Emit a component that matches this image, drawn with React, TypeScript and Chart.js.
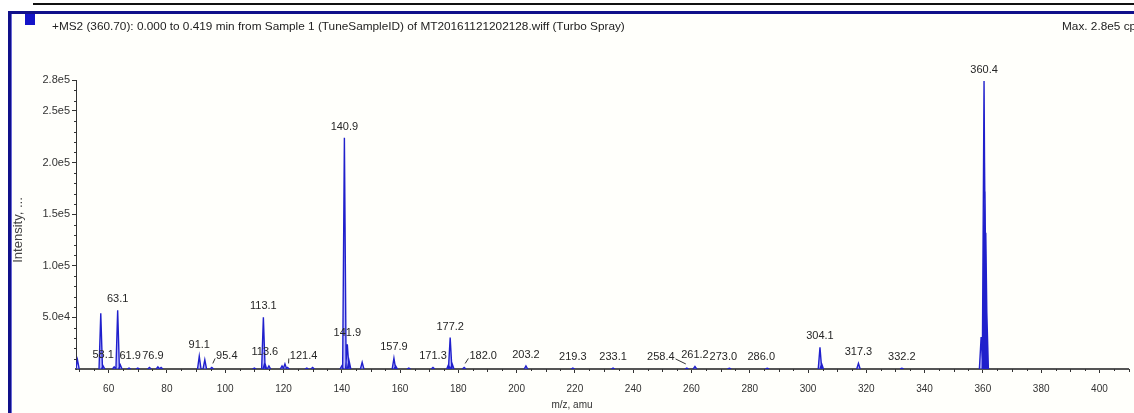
import React, { useEffect, useRef } from 'react';
import { Chart, registerables } from 'chart.js';

Chart.register(...registerables);

// ---- data ----
const peakMz = [
  49.3, 57.3, 58.1, 61.9, 63.1, 64.0, 67.0, 70.0, 74.0, 76.9, 78.0,
  91.1, 93.0, 95.4, 110.0, 113.1, 113.6, 115.0, 119.5, 120.5, 121.4, 128.0, 130.0,
  140.0, 140.9, 141.9, 142.5, 147.0, 157.9, 158.5, 163.0, 171.3, 176.6, 177.2, 177.9,
  182.0, 203.2, 219.3, 233.1, 258.4, 261.2, 273.0, 286.0, 304.1, 304.7, 317.3, 332.2,
  359.4, 360.4, 360.7, 361.0, 361.3,
];
const peakIntensity = [
  9000, 54000, 3000, 2000, 57000, 4000, 1000, 1000, 1500, 2000, 1500,
  12500, 9000, 1500, 1000, 50000, 6000, 3000, 3000, 5000, 1500, 1000, 1500,
  3000, 224000, 24000, 8000, 6500, 10500, 3000, 1000, 1500, 4000, 30500, 5000,
  1500, 3000, 1000, 1000, 1000, 2500, 800, 800, 21000, 5000, 5500, 800,
  31000, 279000, 172000, 132000, 60000,
];
const labeledMz = [
  58.1, 61.9, 63.1, 76.9, 91.1, 95.4, 113.1, 113.6, 121.4, 140.9, 141.9, 157.9,
  171.3, 177.2, 182.0, 203.2, 219.3, 233.1, 258.4, 261.2, 273.0, 286.0, 304.1,
  317.3, 332.2, 360.4,
];
const xTickValues = [60, 80, 100, 120, 140, 160, 180, 200, 220, 240, 260, 280, 300, 320, 340, 360, 380, 400];
const yTickValues = [50000, 100000, 150000, 200000, 250000, 280000];
const yTickLabels = ['5.0e4', '1.0e5', '1.5e5', '2.0e5', '2.5e5', '2.8e5'];
const titleText =
  '+MS2 (360.70): 0.000 to 0.419 min from Sample 1 (TuneSampleID) of MT20161121202128.wiff (Turbo Spray)';
const maxText = 'Max. 2.8e5 cps';
const xAxisTitle = 'm/z, amu';
const yAxisTitle = 'Intensity, ...';

// ---- layout of label annotations (pixel shifts, leader lines) ----
const labelShift: Record<string, number> = {
  '61.9': 16, '76.9': -5, '95.4': 15, '121.4': 16, '182.0': 19, '258.4': -26,
  '273.0': -6, '286.0': -6,
};
const leaderLabels = ['95.4', '121.4', '182.0', '258.4'];

const FONT = '"Liberation Sans", Arial, sans-serif';

const framePlugin = {
  id: 'frame',
  beforeDraw(chart: any) {
    const { ctx, width, height } = chart;
    ctx.save();
    ctx.fillStyle = '#ffffff';
    ctx.fillRect(0, 0, width, height);
    // top black rule
    ctx.fillStyle = '#111111';
    ctx.fillRect(33, 3, width - 33, 2);
    // blue frame
    ctx.fillStyle = '#fffffb';
    ctx.fillRect(11, 14, width - 11, height - 14);
    ctx.fillStyle = '#10108a';
    ctx.fillRect(8, 11, width - 8, 3);
    ctx.fillRect(8, 11, 3, height - 11);
    ctx.fillStyle = '#6a6ad8';
    ctx.fillRect(11, 14, 1, height - 14);
    ctx.fillStyle = '#1414c8';
    ctx.fillRect(25, 14, 10, 11);
    // header texts
    ctx.fillStyle = '#222222';
    ctx.font = `11.8px ${FONT}`;
    ctx.textAlign = 'left';
    ctx.textBaseline = 'middle';
    ctx.fillText(titleText, 52, 27);
    ctx.fillText(maxText, 1062, 27);
    ctx.restore();
  },
};

const axisExtrasPlugin = {
  id: 'axisExtras',
  afterDraw(chart: any) {
    const { ctx, chartArea } = chart;
    const xs = chart.scales.x;
    const ys = chart.scales.y;
    ctx.save();
    ctx.strokeStyle = '#333333';
    ctx.lineWidth = 1;
    ctx.beginPath();
    for (let v = 50; v <= 410; v += 5) {
      if (v % 20 === 0) continue;
      const x = Math.round(xs.getPixelForValue(v)) + 0.5;
      const len = v % 10 === 0 ? 3 : 2;
      ctx.moveTo(x, chartArea.bottom);
      ctx.lineTo(x, chartArea.bottom + len);
    }
    for (let v = 10000; v < 280000; v += 10000) {
      if (v % 50000 === 0) continue;
      const y = Math.round(ys.getPixelForValue(v)) + 0.5;
      ctx.moveTo(chartArea.left, y);
      ctx.lineTo(chartArea.left - 2, y);
    }
    ctx.stroke();
    // axis titles
    ctx.fillStyle = '#333333';
    ctx.font = `10px ${FONT}`;
    ctx.textAlign = 'center';
    ctx.textBaseline = 'middle';
    ctx.fillText(xAxisTitle, 572, 405);
    ctx.save();
    ctx.translate(18, 230);
    ctx.rotate(-Math.PI / 2);
    ctx.font = `13px ${FONT}`;
    ctx.fillStyle = '#444444';
    ctx.fillText(yAxisTitle, 0, 0);
    ctx.restore();
    ctx.restore();
  },
};

const peakLabelPlugin = {
  id: 'peakLabels',
  afterDatasetsDraw(chart: any) {
    const { ctx } = chart;
    const xs = chart.scales.x;
    const ys = chart.scales.y;
    ctx.save();
    ctx.font = `11px ${FONT}`;
    ctx.fillStyle = '#262626';
    ctx.strokeStyle = '#333333';
    ctx.lineWidth = 1;
    ctx.textAlign = 'center';
    ctx.textBaseline = 'middle';
    labeledMz.forEach((mz) => {
      let best = 0;
      peakMz.forEach((m, i) => {
        if (Math.abs(m - mz) < Math.abs(peakMz[best] - mz)) best = i;
      });
      const h = peakIntensity[best];
      const text = mz.toFixed(1);
      const px = xs.getPixelForValue(mz);
      const x = px + (labelShift[text] || 0);
      const y = ys.getPixelForValue(h) - 11;
      ctx.fillText(text, x, y);
      if (leaderLabels.includes(text)) {
        const w = ctx.measureText(text).width;
        ctx.beginPath();
        if (x > px) {
          ctx.moveTo(px + 1, y + 7);
          ctx.lineTo(x - w / 2 - 1, y + 2);
        } else {
          ctx.moveTo(x + w / 2 + 1, y + 2);
          ctx.lineTo(px - 1, y + 7);
        }
        ctx.stroke();
      }
    });
    ctx.restore();
  },
};

export default function App() {
  const canvasRef = useRef<HTMLCanvasElement | null>(null);

  useEffect(() => {
    if (!canvasRef.current) return;
    const hw = 0.6;
    const profile: any[] = [];
    peakMz.forEach((mz, i) => {
      profile.push({ x: mz - hw, y: 0 });
      profile.push({ x: mz, y: peakIntensity[i] });
      profile.push({ x: mz + hw, y: 0 });
      profile.push({ x: mz + hw, y: null });
    });

    const chart = new Chart(canvasRef.current, {
      type: 'line',
      data: {
        datasets: [
          {
            data: profile,
            borderColor: '#2020cc',
            backgroundColor: 'rgba(120,120,255,0.5)',
            borderWidth: 1.4,
            pointRadius: 0,
            tension: 0,
            fill: 'origin',
            spanGaps: false,
          },
        ],
      },
      options: {
        responsive: false,
        animation: false,
        events: [],
        layout: { padding: { left: 0, right: 6, top: 80, bottom: 0 } },
        plugins: {
          legend: { display: false },
          title: { display: false },
          tooltip: { enabled: false },
        },
        scales: {
          x: {
            type: 'linear',
            min: 48.8,
            max: 409.8,
            afterFit: (s: any) => { s.height = 44; },
            afterBuildTicks: (s: any) => { s.ticks = xTickValues.map((v) => ({ value: v })); },
            ticks: {
              autoSkip: false,
              maxRotation: 0,
              padding: 10,
              color: '#333333',
              font: { family: FONT, size: 10 },
              callback: (v: any) => String(v),
            },
            grid: { drawOnChartArea: false, tickLength: 4, color: '#333333' },
            border: { display: true, color: '#555555', width: 2 },
          },
          y: {
            type: 'linear',
            min: 0,
            max: 280000,
            afterFit: (s: any) => { s.width = 76; },
            afterBuildTicks: (s: any) => { s.ticks = yTickValues.map((v) => ({ value: v })); },
            ticks: {
              autoSkip: false,
              padding: 2,
              color: '#333333',
              font: { family: FONT, size: 11 },
              callback: (v: any) => {
                const i = yTickValues.indexOf(Number(v));
                return i >= 0 ? yTickLabels[i] : '';
              },
            },
            grid: { drawOnChartArea: false, tickLength: 4, color: '#333333' },
            border: { display: true, color: '#333333', width: 1, dash: [2, 1] },
          },
        },
      },
      plugins: [framePlugin, axisExtrasPlugin, peakLabelPlugin],
    } as any);

    return () => chart.destroy();
  }, []);

  return (
    <div style={{ position: 'fixed', left: 0, top: 0, width: 1134, height: 413, background: '#fff' }}>
      <canvas ref={canvasRef} width={1134} height={413} style={{ display: 'block' }} />
    </div>
  );
}
